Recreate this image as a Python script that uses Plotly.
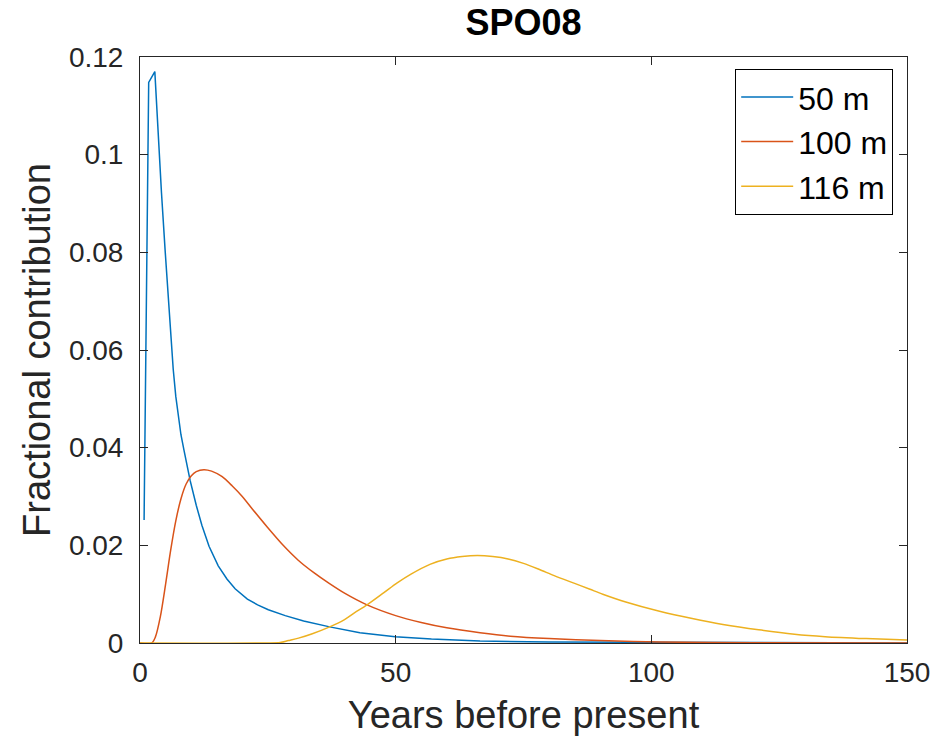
import plotly.graph_objects as go

# ---- data ----
years_50 = [0.8, 1.7, 2.9, 3.6, 4.2, 4.9, 5.5, 6.0, 6.5, 7.0, 7.5, 8.0, 8.6, 9.2, 9.8, 11.0, 12.1, 13.5,
            15.3, 17.0, 18.6, 21.0, 23.0, 25.1, 28.4, 32.0, 37.1, 43.0, 49.9, 57.0, 66.5, 80.0, 100.0,
            150.0]
frac_50 = [0.0252, 0.1148, 0.1170, 0.1025, 0.0922, 0.0806, 0.0705, 0.0625, 0.0560, 0.0505, 0.0462,
           0.0427, 0.0395, 0.0362, 0.0333, 0.0282, 0.0241, 0.0198, 0.0158, 0.0131, 0.0111, 0.0090,
           0.0078, 0.0068, 0.0056, 0.0045, 0.0033, 0.0021, 0.0013, 0.0008, 0.0004, 0.0002, 0.0001, 0.0]

years_100 = [0.0, 2.3, 3.0, 4.0, 5.0, 6.0, 7.0, 8.0, 9.0, 10.0, 11.0, 12.5, 14.0, 16.0, 18.0, 20.0, 22.0,
             25.0, 28.0, 31.0, 34.0, 37.0, 40.0, 44.4, 50.0, 55.0, 60.0, 66.5, 72.4, 80.0, 90.0, 101.7,
             120.0, 150.0]
frac_100 = [0.0, 0.0, 0.0012, 0.0055, 0.0120, 0.0190, 0.0250, 0.0295, 0.0325, 0.0342, 0.0351, 0.0355,
            0.0352, 0.0341, 0.0322, 0.0300, 0.0274, 0.0236, 0.0200, 0.0169, 0.0144, 0.0122, 0.0102,
            0.0078, 0.0056, 0.0042, 0.0031, 0.0021, 0.0014, 0.0009, 0.0005, 0.0002, 0.00005, 0.0]

years_116 = [0.0, 25.0, 27.4, 29.0, 31.0, 33.7, 37.1, 40.0, 42.0, 44.4, 47.7, 50.3, 53.0, 56.7, 60.0,
             63.0, 66.0, 69.0, 72.0, 75.0, 78.0, 81.0, 85.0, 88.0, 90.5, 95.0, 101.6, 108.0, 114.0,
             121.0, 128.0, 134.0, 142.0, 150.0]
frac_116 = [0.0, 0.0, 0.0001, 0.0005, 0.0010, 0.0019, 0.0033, 0.0048, 0.0062, 0.0078, 0.0103, 0.0123,
            0.0141, 0.0161, 0.0172, 0.0177, 0.0179, 0.0177, 0.0172, 0.0163, 0.0151, 0.0138, 0.0122,
            0.0110, 0.0100, 0.0084, 0.0065, 0.0050, 0.0038, 0.0027, 0.0018, 0.0013, 0.0009, 0.0006]

series = [
    ("50 m", years_50, frac_50, "#0072BD", "linear"),
    ("100 m", years_100, frac_100, "#D95319", "spline"),
    ("116 m", years_116, frac_116, "#EDB120", "spline"),
]

x_ticks = [0, 50, 100, 150]
y_ticks = [0, 0.02, 0.04, 0.06, 0.08, 0.1, 0.12]
y_ticklabels = ["0", "0.02", "0.04", "0.06", "0.08", "0.1", "0.12"]

FONT = "Liberation Sans, Arial, Helvetica, sans-serif"
AXC = "#262626"

fig = go.Figure()
for name, xs, ys, col, shp in series:
    line = dict(color=col, width=1.5, shape=shp)
    if shp == "spline":
        line["smoothing"] = 0.8
    fig.add_trace(go.Scatter(x=xs, y=ys, mode="lines", name=name, line=line))

axis_common = dict(
    showline=True, linecolor=AXC, linewidth=1, mirror="ticks",
    ticks="inside", ticklen=8, tickwidth=1, tickcolor=AXC,
    showgrid=False, zeroline=False,
    tickfont=dict(family=FONT, size=28, color=AXC),
)

fig.update_layout(
    width=941, height=740,
    margin=dict(l=140, r=34, t=57, b=97),
    paper_bgcolor="white", plot_bgcolor="white",
    title=dict(text="<b>SPO08</b>", xref="paper", x=0.5, xanchor="center",
               yref="container", y=0.97, yanchor="middle",
               font=dict(family=FONT, size=36, color="black")),
    xaxis=dict(range=[0, 150], tickvals=x_ticks, ticklabelstandoff=4,
               title=dict(text="Years before present", standoff=14,
                          font=dict(family=FONT, size=38, color=AXC)),
               **axis_common),
    yaxis=dict(range=[0, 0.12], tickvals=y_ticks, ticktext=y_ticklabels, ticklabelstandoff=10,
               title=dict(text="Fractional contribution", standoff=6,
                          font=dict(family=FONT, size=38, color=AXC)),
               **axis_common),
    legend=dict(x=0.982, xanchor="right", y=0.98, yanchor="top",
                bgcolor="white", bordercolor="black", borderwidth=1,
                font=dict(family=FONT, size=32, color="black"),
                itemwidth=52),
    showlegend=True,
)

fig.write_html("out.html")
